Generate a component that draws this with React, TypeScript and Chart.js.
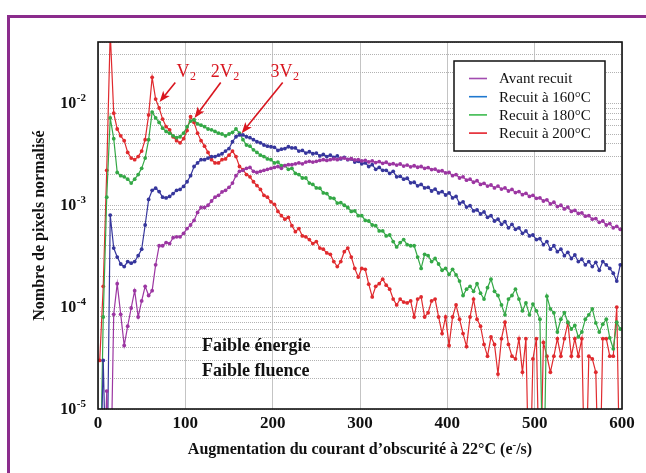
import React, { useEffect, useRef } from 'react';
import { Chart, registerables } from 'chart.js';

Chart.register(...registerables);

// x bins: first bin centre and bin width (e-/s)
const BIN_START = 2;
const BIN_WIDTH = 4;
// empty bins (0) are drawn just below the axis floor so their lines run off the bottom
const EMPTY_BIN_DRAW = 1e-6;

const avantRecuit = [
  0, 0, 1.5e-5, 0, 8.5e-5, 1.7e-4, 8.5e-5, 4.2e-5, 6.5e-5, 9.8e-5,
  1.45e-4, 8.0e-5, 1.15e-4, 1.6e-4, 1.3e-4, 1.45e-4, 2.6e-4, 4.0e-4, 4.0e-4, 4.3e-4,
  4.2e-4, 4.8e-4, 4.9e-4, 4.9e-4, 5.3e-4, 5.9e-4, 6.4e-4, 7.1e-4, 8.5e-4, 9.5e-4,
  9.5e-4, 1.0e-3, 1.1e-3, 1.2e-3, 1.25e-3, 1.35e-3, 1.4e-3, 1.5e-3, 1.65e-3, 1.95e-3,
  2.15e-3, 2.2e-3, 2.3e-3, 2.35e-3, 2.15e-3, 2.1e-3, 2.15e-3, 2.2e-3, 2.25e-3, 2.3e-3,
  2.35e-3, 2.4e-3, 2.3e-3, 2.45e-3, 2.5e-3, 2.5e-3, 2.55e-3, 2.6e-3, 2.55e-3, 2.65e-3,
  2.7e-3, 2.65e-3, 2.7e-3, 2.75e-3, 2.8e-3, 2.75e-3, 2.8e-3, 2.85e-3, 2.8e-3, 2.9e-3,
  2.9e-3, 2.82e-3, 2.86e-3, 2.78e-3, 2.8e-3, 2.72e-3, 2.76e-3, 2.66e-3, 2.72e-3, 2.62e-3,
  2.68e-3, 2.58e-3, 2.64e-3, 2.52e-3, 2.56e-3, 2.48e-3, 2.54e-3, 2.42e-3, 2.48e-3, 2.38e-3,
  2.44e-3, 2.36e-3, 2.4e-3, 2.3e-3, 2.34e-3, 2.24e-3, 2.26e-3, 2.16e-3, 2.18e-3, 2.08e-3,
  2.1e-3, 1.95e-3, 2.0e-3, 1.85e-3, 1.9e-3, 1.76e-3, 1.8e-3, 1.68e-3, 1.74e-3, 1.6e-3,
  1.64e-3, 1.54e-3, 1.58e-3, 1.48e-3, 1.54e-3, 1.44e-3, 1.48e-3, 1.38e-3, 1.43e-3, 1.33e-3,
  1.36e-3, 1.27e-3, 1.31e-3, 1.22e-3, 1.25e-3, 1.17e-3, 1.18e-3, 1.1e-3, 1.13e-3, 1.03e-3,
  1.07e-3, 9.7e-4, 1.0e-3, 9.2e-4, 9.6e-4, 8.7e-4, 8.9e-4, 8.3e-4, 8.4e-4, 7.8e-4,
  7.9e-4, 7.3e-4, 7.4e-4, 6.8e-4, 7.0e-4, 6.4e-4, 6.6e-4, 6.0e-4, 6.2e-4, 5.8e-4,
];

const recuit160 = [
  0, 3e-5, 0, 8e-4, 3.8e-4, 3.1e-4, 2.65e-4, 2.5e-4, 2.8e-4, 2.7e-4,
  2.8e-4, 3.2e-4, 3.7e-4, 6.4e-4, 1.14e-3, 1.4e-3, 1.47e-3, 1.36e-3, 1.2e-3, 1.18e-3,
  1.22e-3, 1.3e-3, 1.4e-3, 1.43e-3, 1.53e-3, 1.7e-3, 1.95e-3, 2.4e-3, 2.6e-3, 2.8e-3,
  2.8e-3, 2.9e-3, 3.0e-3, 3.0e-3, 3.1e-3, 3.2e-3, 3.4e-3, 3.6e-3, 4.2e-3, 4.7e-3,
  4.9e-3, 4.9e-3, 4.7e-3, 4.6e-3, 4.4e-3, 4.2e-3, 4.1e-3, 3.9e-3, 3.8e-3, 3.75e-3,
  3.7e-3, 3.45e-3, 3.55e-3, 3.6e-3, 3.75e-3, 3.65e-3, 3.65e-3, 3.4e-3, 3.45e-3, 3.25e-3,
  3.35e-3, 3.2e-3, 3.25e-3, 3.05e-3, 3.15e-3, 3.0e-3, 3.1e-3, 2.95e-3, 3.05e-3, 2.85e-3,
  2.95e-3, 2.8e-3, 2.85e-3, 2.65e-3, 2.7e-3, 2.55e-3, 2.6e-3, 2.4e-3, 2.5e-3, 2.25e-3,
  2.35e-3, 2.2e-3, 2.2e-3, 2.05e-3, 2.15e-3, 1.9e-3, 1.92e-3, 1.8e-3, 1.84e-3, 1.66e-3,
  1.68e-3, 1.55e-3, 1.6e-3, 1.48e-3, 1.5e-3, 1.38e-3, 1.44e-3, 1.32e-3, 1.36e-3, 1.26e-3,
  1.32e-3, 1.18e-3, 1.22e-3, 1.04e-3, 1.08e-3, 9.6e-4, 9.9e-4, 8.8e-4, 9.0e-4, 8.2e-4,
  8.6e-4, 7.6e-4, 7.9e-4, 7.0e-4, 7.3e-4, 6.5e-4, 6.9e-4, 6.0e-4, 6.5e-4, 5.8e-4,
  6.0e-4, 5.3e-4, 5.6e-4, 5.0e-4, 5.1e-4, 4.6e-4, 4.7e-4, 4.1e-4, 4.4e-4, 3.7e-4,
  4.0e-4, 3.5e-4, 3.7e-4, 3.2e-4, 3.45e-4, 3.0e-4, 3.25e-4, 2.8e-4, 2.95e-4, 2.6e-4,
  2.8e-4, 2.5e-4, 2.75e-4, 2.3e-4, 2.8e-4, 2.6e-4, 2.4e-4, 2.15e-4, 1.8e-4, 2.6e-4,
];

const recuit180 = [
  0, 8e-5, 1.2e-3, 7.2e-3, 4.5e-3, 2.1e-3, 1.95e-3, 1.9e-3, 1.8e-3, 1.65e-3,
  1.8e-3, 2.0e-3, 2.3e-3, 2.9e-3, 4.4e-3, 8.2e-3, 7.2e-3, 6.5e-3, 5.7e-3, 5.3e-3,
  5.1e-3, 4.8e-3, 4.6e-3, 4.7e-3, 5.1e-3, 5.9e-3, 6.7e-3, 6.9e-3, 6.3e-3, 6.1e-3,
  5.9e-3, 5.6e-3, 5.5e-3, 5.3e-3, 5.1e-3, 5.0e-3, 4.8e-3, 5.0e-3, 5.2e-3, 5.6e-3,
  5.1e-3, 4.4e-3, 3.9e-3, 3.8e-3, 3.5e-3, 3.3e-3, 3.1e-3, 3.0e-3, 2.85e-3, 2.8e-3,
  2.6e-3, 2.65e-3, 2.45e-3, 2.45e-3, 2.25e-3, 2.3e-3, 2.05e-3, 2.0e-3, 1.85e-3, 1.85e-3,
  1.65e-3, 1.6e-3, 1.48e-3, 1.47e-3, 1.32e-3, 1.3e-3, 1.18e-3, 1.17e-3, 1.05e-3, 1.06e-3,
  1.0e-3, 9.5e-4, 8.7e-4, 8.8e-4, 7.9e-4, 7.9e-4, 7.1e-4, 7.0e-4, 6.4e-4, 6.3e-4,
  5.6e-4, 5.6e-4, 5.0e-4, 5.1e-4, 4.4e-4, 3.9e-4, 4.3e-4, 4.6e-4, 4.1e-4, 4.0e-4,
  4.0e-4, 3.1e-4, 2.4e-4, 3.3e-4, 3.2e-4, 2.8e-4, 3.0e-4, 2.65e-4, 2.3e-4, 2.4e-4,
  2.1e-4, 2.35e-4, 2.07e-4, 1.8e-4, 1.3e-4, 1.5e-4, 1.6e-4, 1.43e-4, 1.7e-4, 1.37e-4,
  1.2e-4, 1.55e-4, 1.88e-4, 1.43e-4, 1.3e-4, 1.05e-4, 8.4e-5, 1.2e-4, 1.3e-4, 1.5e-4,
  1.2e-4, 9.2e-5, 1.1e-4, 8.4e-5, 1.07e-4, 9.2e-5, 7.6e-5, 0, 1.28e-4, 9.6e-5,
  8.8e-5, 5.7e-5, 7.6e-5, 8.8e-5, 7.1e-5, 6.1e-5, 6.6e-5, 5.1e-5, 5.7e-5, 7.6e-5,
  8.4e-5, 9.6e-5, 7.0e-5, 5.7e-5, 6.8e-5, 7.6e-5, 5.0e-5, 3.9e-5, 7.1e-5, 6.1e-5,
];

const recuit200 = [
  3e-5, 1.6e-4, 2.2e-3, 5e-2, 8.0e-3, 5.6e-3, 4.8e-3, 4.3e-3, 3.3e-3, 2.9e-3,
  2.8e-3, 3.0e-3, 3.4e-3, 4.4e-3, 7.7e-3, 1.8e-2, 1.1e-2, 9.0e-3, 7.0e-3, 5.9e-3,
  5.5e-3, 4.7e-3, 4.3e-3, 4.1e-3, 4.5e-3, 5.4e-3, 7.4e-3, 6.5e-3, 5.1e-3, 4.3e-3,
  3.8e-3, 3.3e-3, 2.8e-3, 2.6e-3, 2.6e-3, 2.8e-3, 2.85e-3, 3.1e-3, 3.4e-3, 3.0e-3,
  2.4e-3, 2.24e-3, 2.0e-3, 1.9e-3, 1.7e-3, 1.56e-3, 1.43e-3, 1.25e-3, 1.2e-3, 1.08e-3,
  1.02e-3, 8.7e-4, 7.9e-4, 7.3e-4, 7.6e-4, 6.3e-4, 5.5e-4, 5.9e-4, 5.0e-4, 4.9e-4,
  4.6e-4, 4.2e-4, 4.4e-4, 3.8e-4, 3.7e-4, 3.4e-4, 3.3e-4, 2.8e-4, 2.5e-4, 2.8e-4,
  3.5e-4, 3.8e-4, 3.1e-4, 2.4e-4, 1.97e-4, 2.4e-4, 2.35e-4, 1.68e-4, 1.26e-4, 1.6e-4,
  1.7e-4, 1.88e-4, 1.64e-4, 1.5e-4, 1.2e-4, 1.05e-4, 1.2e-4, 1.12e-4, 1.1e-4, 1.15e-4,
  8.0e-5, 1.2e-4, 1.26e-4, 8.0e-5, 8.8e-5, 1.15e-4, 1.2e-4, 8.0e-5, 5.5e-5, 8.0e-5,
  4.2e-5, 8.0e-5, 1.05e-4, 7.6e-5, 5.5e-5, 4.1e-5, 8.0e-5, 1.2e-4, 7.6e-5, 6.5e-5,
  4.3e-5, 3.3e-5, 5.1e-5, 4.3e-5, 2.2e-5, 4.9e-5, 7.1e-5, 4.3e-5, 3.3e-5, 3.1e-5,
  4.9e-5, 2.3e-5, 4.9e-5, 0, 3.1e-5, 4.9e-5, 0, 4.5e-5, 3.3e-5, 2.3e-5,
  3.3e-5, 4.9e-5, 3.3e-5, 4.9e-5, 7.0e-5, 3.3e-5, 4.9e-5, 3.3e-5, 4.9e-5, 0,
  3.3e-5, 3.1e-5, 2.3e-5, 0, 4.9e-5, 4.9e-5, 3.3e-5, 3.3e-5, 1.0e-4, 0,
];

const seriesLabels = ['Avant recuit', 'Recuit à 160°C', 'Recuit à 180°C', 'Recuit à 200°C'];
const seriesValues = [avantRecuit, recuit160, recuit180, recuit200];
const lineColors = ['#9c36a2', '#36369c', '#34a846', '#e02a2e'];
const legendColors = ['#a24cb0', '#1f78cf', '#3dba4e', '#e4222c'];

const xTickValues = [0, 100, 200, 300, 400, 500, 600];
const yDecadeValues = [1e-5, 1e-4, 1e-3, 1e-2];
const yDecadeExponents = ['-5', '-4', '-3', '-2'];
const yGridValues = [
  1e-5, 2e-5, 3e-5, 4e-5, 5e-5, 6e-5, 7e-5, 8e-5, 9e-5,
  1e-4, 2e-4, 3e-4, 4e-4, 5e-4, 6e-4, 7e-4, 8e-4, 9e-4,
  1e-3, 2e-3, 3e-3, 4e-3, 5e-3, 6e-3, 7e-3, 8e-3, 9e-3,
  1e-2, 2e-2, 3e-2, 4e-2,
];

const xTitle = 'Augmentation du courant d’obscurité à 22°C (e';
const xTitleSup = '-';
const xTitleEnd = '/s)';
const yTitle = 'Nombre de pixels normalisé';
const noteLines = ['Faible énergie', 'Faible fluence'];

// peak annotations (data coordinates)
const peakMain = ['V', '2V', '3V'];
const peakSub = ['2', '2', '2'];
const peakTextX = [90, 129, 197.5];
const peakTextY = [1.8e-2, 1.8e-2, 1.8e-2];
const peakTailX = [88.5, 140.5, 211.5];
const peakTailY = [1.6e-2, 1.6e-2, 1.6e-2];
const peakTipX = [70.5, 110.5, 164.5];
const peakTipY = [1.03e-2, 7.2e-3, 5.1e-3];

const SERIF = "'Liberation Serif', 'Times New Roman', serif";

function drawArrow(ctx: CanvasRenderingContext2D, x1: number, y1: number, x2: number, y2: number) {
  const ang = Math.atan2(y2 - y1, x2 - x1);
  const L = 11;
  const W = 4.2;
  const c = Math.cos(ang);
  const s = Math.sin(ang);
  ctx.beginPath();
  ctx.moveTo(x1, y1);
  ctx.lineTo(x2 - L * 0.7 * c, y2 - L * 0.7 * s);
  ctx.stroke();
  ctx.beginPath();
  ctx.moveTo(x2, y2);
  ctx.lineTo(x2 - L * c - W * s, y2 - L * s + W * c);
  ctx.lineTo(x2 - L * 0.75 * c, y2 - L * 0.75 * s);
  ctx.lineTo(x2 - L * c + W * s, y2 - L * s - W * c);
  ctx.closePath();
  ctx.fill();
}

const framePlugin = {
  id: 'frameAndText',
  beforeDraw(chart: any) {
    const { ctx, width, height } = chart;
    ctx.save();
    ctx.fillStyle = '#ffffff';
    ctx.fillRect(0, 0, width, height);
    ctx.strokeStyle = '#8b2c8c';
    ctx.lineWidth = 3;
    ctx.beginPath();
    ctx.moveTo(8.5, height + 2);
    ctx.lineTo(8.5, 16.5);
    ctx.lineTo(width + 2, 16.5);
    ctx.stroke();
    ctx.restore();
  },
  afterDraw(chart: any) {
    const { ctx, chartArea: a } = chart;
    const xs = chart.scales.x;
    const ys = chart.scales.y;
    ctx.save();

    // plot frame
    ctx.strokeStyle = '#111111';
    ctx.lineWidth = 1.6;
    ctx.strokeRect(a.left, a.top, a.right - a.left, a.bottom - a.top);

    // y tick labels 10^n
    ctx.fillStyle = '#111111';
    ctx.textBaseline = 'middle';
    yDecadeValues.forEach((v, i) => {
      const py = ys.getPixelForValue(v);
      ctx.font = `bold 11px ${SERIF}`;
      const supW = ctx.measureText(yDecadeExponents[i]).width;
      const right = a.left - 12;
      ctx.textAlign = 'left';
      ctx.fillText(yDecadeExponents[i], right - supW, py - 5);
      ctx.font = `bold 16px ${SERIF}`;
      ctx.textAlign = 'right';
      ctx.fillText('10', right - supW - 0.5, py + 1);
    });

    // x tick labels
    ctx.font = `bold 17px ${SERIF}`;
    ctx.textAlign = 'center';
    xTickValues.forEach((v) => {
      ctx.fillText(String(v), xs.getPixelForValue(v), a.bottom + 15);
    });

    // x title with superscript
    ctx.font = `bold 16px ${SERIF}`;
    const w1 = ctx.measureText(xTitle).width;
    const w3 = ctx.measureText(xTitleEnd).width;
    ctx.font = `bold 11px ${SERIF}`;
    const w2 = ctx.measureText(xTitleSup).width;
    const total = w1 + w2 + w3;
    let tx = (a.left + a.right) / 2 - total / 2;
    const ty = a.bottom + 41;
    ctx.textAlign = 'left';
    ctx.font = `bold 16px ${SERIF}`;
    ctx.fillText(xTitle, tx, ty);
    tx += w1;
    ctx.font = `bold 11px ${SERIF}`;
    ctx.fillText(xTitleSup, tx, ty - 5);
    tx += w2;
    ctx.font = `bold 16px ${SERIF}`;
    ctx.fillText(xTitleEnd, tx, ty);

    // y title
    ctx.save();
    ctx.translate(40, (a.top + a.bottom) / 2);
    ctx.rotate(-Math.PI / 2);
    ctx.textAlign = 'center';
    ctx.font = `bold 16px ${SERIF}`;
    ctx.fillText(yTitle, 0, 0);
    ctx.restore();

    // note text
    ctx.font = `bold 18px ${SERIF}`;
    ctx.textAlign = 'left';
    ctx.textBaseline = 'alphabetic';
    noteLines.forEach((t, i) => {
      ctx.fillText(t, xs.getPixelForValue(119), a.top + 309 + i * 25);
    });

    // peak annotations
    ctx.fillStyle = '#d9161f';
    ctx.strokeStyle = '#d9161f';
    ctx.lineWidth = 1.6;
    peakMain.forEach((m, i) => {
      const px = xs.getPixelForValue(peakTextX[i]);
      const py = ys.getPixelForValue(peakTextY[i]);
      ctx.font = `18px ${SERIF}`;
      ctx.textBaseline = 'alphabetic';
      ctx.fillText(m, px, py);
      const mw = ctx.measureText(m).width;
      ctx.font = `12px ${SERIF}`;
      ctx.fillText(peakSub[i], px + mw + 0.5, py + 3);
      drawArrow(
        ctx,
        xs.getPixelForValue(peakTailX[i]),
        ys.getPixelForValue(peakTailY[i]),
        xs.getPixelForValue(peakTipX[i]),
        ys.getPixelForValue(peakTipY[i])
      );
    });

    // legend
    const bw = 151;
    const bh = 90;
    const bx = a.right - 17 - bw;
    const by = a.top + 19;
    ctx.fillStyle = '#ffffff';
    ctx.fillRect(bx, by, bw, bh);
    ctx.strokeStyle = '#111111';
    ctx.lineWidth = 1.5;
    ctx.strokeRect(bx, by, bw, bh);
    ctx.font = `15px ${SERIF}`;
    ctx.textBaseline = 'middle';
    seriesLabels.forEach((lab, i) => {
      const ry = by + 17.5 + i * 18.2;
      ctx.strokeStyle = legendColors[i];
      ctx.lineWidth = 1.6;
      ctx.beginPath();
      ctx.moveTo(bx + 15, ry);
      ctx.lineTo(bx + 33, ry);
      ctx.stroke();
      ctx.fillStyle = '#111111';
      ctx.fillText(lab, bx + 45, ry + 1);
    });

    ctx.restore();
  },
};

export default function App() {
  const canvasRef = useRef<HTMLCanvasElement | null>(null);

  useEffect(() => {
    const canvas = canvasRef.current;
    if (!canvas) return;
    const datasets = seriesValues.map((vals, si) => ({
      label: seriesLabels[si],
      data: vals.map((v, i) => ({ x: BIN_START + BIN_WIDTH * i, y: v > 0 ? v : EMPTY_BIN_DRAW })),
      borderColor: lineColors[si],
      backgroundColor: lineColors[si],
      pointBackgroundColor: lineColors[si],
      pointBorderWidth: 0,
      pointRadius: 1.9,
      borderWidth: 1.2,
      tension: 0,
    }));
    const chart = new Chart(canvas, {
      type: 'line',
      data: { datasets },
      options: {
        animation: false,
        responsive: false,
        devicePixelRatio: 1,
        layout: { padding: { left: 98, top: 42, right: 24, bottom: 64 } },
        plugins: { legend: { display: false }, tooltip: { enabled: false } },
        scales: {
          x: {
            type: 'linear',
            min: 0,
            max: 600,
            ticks: { display: false, stepSize: 100 },
            grid: { color: '#c4c4c4', lineWidth: 1, drawTicks: false },
            border: { display: false },
            afterFit: (s: any) => {
              s.height = 0;
            },
          },
          y: {
            type: 'logarithmic',
            min: 1e-5,
            max: 0.04,
            ticks: { display: false },
            afterBuildTicks: (s: any) => {
              s.ticks = yGridValues.map((v) => ({ value: v }));
            },
            grid: { color: '#b2b2b2', lineWidth: 1, drawTicks: false },
            border: { display: false, dash: [1, 1] },
            afterFit: (s: any) => {
              s.width = 0;
            },
          },
        },
      } as any,
      plugins: [framePlugin],
    });
    return () => chart.destroy();
  }, []);

  return (
    <div style={{ position: 'fixed', left: 0, top: 0, width: 646, height: 473, background: '#fff' }}>
      <canvas ref={canvasRef} width={646} height={473} style={{ display: 'block' }} />
    </div>
  );
}
